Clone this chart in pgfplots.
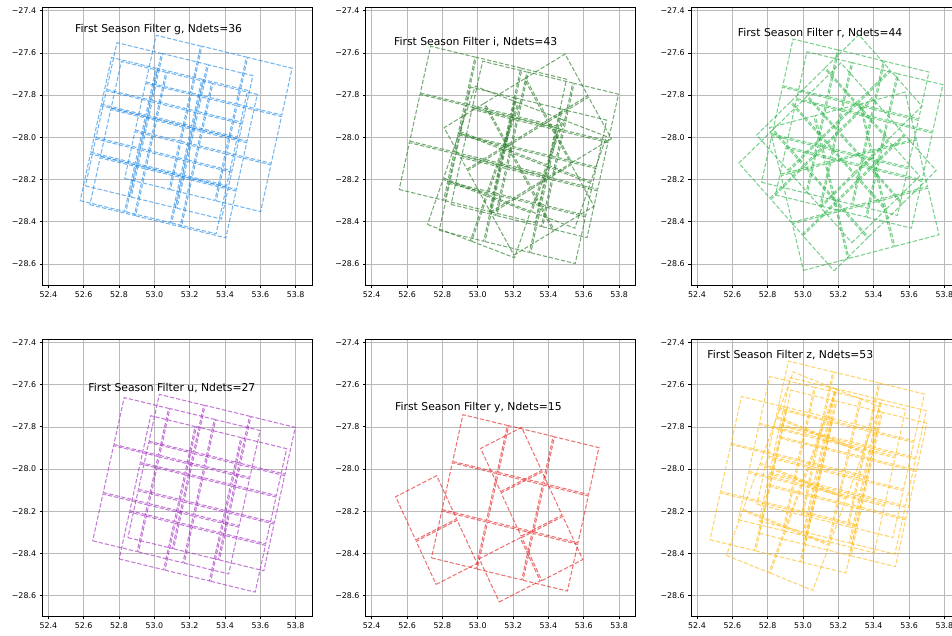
\documentclass[border=0pt]{standalone}
\usepackage{fontspec}
\setmainfont{DejaVu Sans}
\usepackage{pgfplots}
\pgfplotsset{compat=1.18}

\definecolor{gridc}{RGB}{185,185,185}
\definecolor{cg}{RGB}{30,136,229}
\definecolor{ci}{RGB}{34,120,34}
\definecolor{cr}{RGB}{40,180,70}
\definecolor{cu}{RGB}{160,40,190}
\definecolor{cy}{RGB}{225,30,30}
\definecolor{cz}{RGB}{255,185,20}

% detector outline: square of 0.2276 deg on the sky, rotated by #1 degrees,
% drawn in data units (x unit 176.7pt per deg RA, y unit 211pt per deg Dec, cos(dec)=0.8821)
\newcommand\chipmark[1]{%
  \pgfmathsetmacro\cXa{(cos(#1)+sin(#1))*22.796}%
  \pgfmathsetmacro\cYa{(cos(#1)-sin(#1))*24.012}%
  \pgfmathsetmacro\cXb{(cos(#1)-sin(#1))*22.796}%
  \pgfmathsetmacro\cYb{-(cos(#1)+sin(#1))*24.012}%
  \pgfmathsetmacro\cXan{-(cos(#1)+sin(#1))*22.796}%
  \pgfmathsetmacro\cYan{-(cos(#1)-sin(#1))*24.012}%
  \pgfmathsetmacro\cXbn{-(cos(#1)-sin(#1))*22.796}%
  \pgfmathsetmacro\cYbn{(cos(#1)+sin(#1))*24.012}%
  \pgfpathmoveto{\pgfqpoint{\cXan pt}{\cYan pt}}%
  \pgfpathlineto{\pgfqpoint{\cXb pt}{\cYb pt}}%
  \pgfpathlineto{\pgfqpoint{\cXa pt}{\cYa pt}}%
  \pgfpathlineto{\pgfqpoint{\cXbn pt}{\cYbn pt}}%
  \pgfpathclose
  \pgfusepathqstroke}
\pgfdeclareplotmark{chipPa}{\chipmark{13}}
\pgfdeclareplotmark{chipPb}{\chipmark{20}}
\pgfdeclareplotmark{chipPc}{\chipmark{21}}
\pgfdeclareplotmark{chipMa}{\chipmark{-14}}
\pgfdeclareplotmark{chipMb}{\chipmark{-26}}
\pgfdeclareplotmark{chipMc}{\chipmark{-30}}
\pgfdeclareplotmark{chipMd}{\chipmark{-43}}

\pgfplotsset{
  panel/.style={
    anchor=south west,
    x=176.7pt, y=211pt,
    xmin=52.366, xmax=53.894, ymin=-28.700, ymax=-27.384,
    xtick={52.4,52.6,52.8,53.0,53.2,53.4,53.6,53.8},
    xticklabels={52.4,52.6,52.8,53.0,53.2,53.4,53.6,53.8},
    ytick={-28.6,-28.4,-28.2,-28.0,-27.8,-27.6,-27.4},
    yticklabels={−28.6,−28.4,−28.2,−28.0,−27.8,−27.6,−27.4},
    xtick pos=bottom, ytick pos=left,
    tick align=outside, major tick length=2.7pt,
    tick style={black, line width=0.6pt},
    axis line style={black, line width=0.6pt},
    grid=major, major grid style={gridc, line width=0.55pt},
    tick label style={font=\fontsize{7.9pt}{9pt}\selectfont, black},
    clip=false,
  },
  chips/.style={only marks, line width=1.05pt, dash pattern=on 4.3pt off 1.9pt, opacity=0.62},
}
\tikzset{ttl/.style={anchor=west, inner sep=0pt, font=\fontsize{10.8pt}{13pt}\selectfont, black}}

\begin{document}
\begin{tikzpicture}
\path[use as bounding box] (0,0) rectangle (952pt,636pt);

% ---------------- g ----------------
\begin{axis}[panel, at={(42.3pt,351pt)}]
\addplot[chips, color=cg, mark=chipPa] coordinates {
(52.987,-28.110) (53.246,-28.163) (53.505,-28.216)
(53.047,-27.881) (53.306,-27.934) (53.565,-27.987)
(53.107,-27.653) (53.366,-27.705) (53.625,-27.758)
(52.790,-28.234) (53.049,-28.287) (53.308,-28.340)
(52.850,-28.005) (53.109,-28.058) (53.368,-28.111)
(52.910,-27.777) (53.169,-27.829) (53.428,-27.882)
(52.735,-28.215) (52.994,-28.268) (53.253,-28.321)
(52.795,-27.986) (53.054,-28.039) (53.313,-28.092)
(52.855,-27.758) (53.114,-27.810) (53.373,-27.863)
(52.765,-28.145) (53.024,-28.198) (53.283,-28.251)
(52.825,-27.916) (53.084,-27.969) (53.343,-28.022)
(52.885,-27.688) (53.144,-27.740) (53.403,-27.793)
};
\node[ttl] at (axis cs:52.551,-27.490) {First Season Filter g, Ndets=36};
\end{axis}

% ---------------- i ----------------
\begin{axis}[panel, at={(365.7pt,351pt)}]
\addplot[chips, color=ci, mark=chipPa] coordinates {
(52.710,-28.162) (52.969,-28.215) (53.228,-28.268)
(52.770,-27.933) (53.029,-27.986) (53.288,-28.039)
(52.830,-27.705) (53.089,-27.757) (53.348,-27.810)
(53.004,-28.233) (53.263,-28.286) (53.522,-28.339)
(53.064,-28.004) (53.323,-28.057) (53.582,-28.110)
(53.124,-27.776) (53.383,-27.828) (53.642,-27.881)
(52.937,-28.356) (53.196,-28.409) (53.455,-28.462)
(52.997,-28.127) (53.256,-28.180) (53.515,-28.233)
(53.057,-27.899) (53.316,-27.951) (53.575,-28.004)
};
\addplot[chips, color=ci, mark=chipMc] coordinates {
(52.986,-27.996) (53.216,-27.879) (53.447,-27.761)
(53.119,-28.199) (53.350,-28.082) (53.580,-27.965)
(53.252,-28.403) (53.482,-28.285)
};
\addplot[chips, color=ci, mark=chipPb] coordinates {
(52.881,-28.345) (53.131,-28.425) (52.972,-28.125) (53.222,-28.205)
(53.063,-27.904) (53.313,-27.984) (53.472,-28.285) (53.563,-28.064)
};
\node[ttl] at (axis cs:52.526,-27.547) {First Season Filter i, Ndets=43};
\end{axis}

% ---------------- r ----------------
\begin{axis}[panel, at={(691pt,351pt)}]
\addplot[chips, color=cr, mark=chipPa] coordinates {
(52.920,-28.128) (53.179,-28.181) (53.438,-28.234)
(52.980,-27.899) (53.239,-27.952) (53.498,-28.005)
(53.040,-27.671) (53.299,-27.723) (53.558,-27.776)
(52.999,-28.188) (53.258,-28.241) (53.517,-28.294)
(53.059,-27.959) (53.318,-28.012) (53.577,-28.065)
(53.119,-27.731) (53.378,-27.783) (53.637,-27.836)
};
\addplot[chips, color=cr, mark=chipMa] coordinates {
(53.096,-28.493) (53.354,-28.436) (53.613,-28.379)
(53.032,-28.265) (53.290,-28.208) (53.548,-28.151)
(52.967,-28.037) (53.226,-27.980) (53.484,-27.924)
};
\addplot[chips, color=cr, mark=chipMd] coordinates {
(53.182,-28.472) (53.377,-28.312) (53.571,-28.152)
(53.001,-28.300) (53.195,-28.140) (53.390,-27.980)
(52.819,-28.128) (53.014,-27.968) (53.208,-27.808)
(53.283,-28.339) (53.478,-28.179)
(53.102,-28.167) (53.296,-28.007) (53.491,-27.847)
(52.920,-27.995) (53.115,-27.835) (53.309,-27.675)
};
\node[ttl] at (axis cs:52.630,-27.504) {First Season Filter r, Ndets=44};
\end{axis}

% ---------------- u ----------------
\begin{axis}[panel, at={(42.3pt,19.3pt)}]
\addplot[chips, color=cu, mark=chipPa] coordinates {
(53.005,-28.240) (53.264,-28.293) (53.523,-28.346)
(53.065,-28.011) (53.324,-28.064) (53.583,-28.117)
(53.125,-27.783) (53.384,-27.835) (53.643,-27.888)
(52.806,-28.255) (53.065,-28.308) (53.324,-28.361)
(52.866,-28.026) (53.125,-28.079) (53.384,-28.132)
(52.926,-27.798) (53.185,-27.850) (53.444,-27.903)
(52.956,-28.341) (53.215,-28.394) (53.474,-28.447)
(53.016,-28.112) (53.275,-28.165) (53.534,-28.218)
(53.076,-27.884) (53.335,-27.936) (53.594,-27.989)
};
\node[ttl] at (axis cs:52.626,-27.614) {First Season Filter u, Ndets=27};
\end{axis}

% ---------------- y ----------------
\begin{axis}[panel, at={(365.7pt,19.3pt)}]
\addplot[chips, color=cy, mark=chipPa] coordinates {
(52.893,-28.336) (53.152,-28.389) (53.411,-28.442)
(52.953,-28.107) (53.212,-28.160) (53.471,-28.213)
(53.013,-27.879) (53.272,-27.931) (53.531,-27.984)
};
\addplot[chips, color=cy, mark=chipMb] coordinates {
(52.708,-28.184) (52.824,-28.395) (53.189,-27.955)
(53.305,-28.166) (53.422,-28.377) (53.181,-28.478)
};
\node[ttl] at (axis cs:52.532,-27.709) {First Season Filter y, Ndets=15};
\end{axis}

% ---------------- z ----------------
\begin{axis}[panel, at={(691pt,19.3pt)}]
\addplot[chips, color=cz, mark=chipPa] coordinates {
(52.894,-28.082) (53.153,-28.135) (53.412,-28.188)
(52.954,-27.853) (53.213,-27.906) (53.472,-27.959)
(53.014,-27.625) (53.273,-27.677) (53.532,-27.730)
(52.628,-28.250) (52.887,-28.303) (53.146,-28.356)
(52.688,-28.021) (52.947,-28.074) (53.206,-28.127)
(52.748,-27.793) (53.007,-27.845) (53.266,-27.898)
(52.908,-28.220) (53.167,-28.273) (53.426,-28.326)
(52.968,-27.991) (53.227,-28.044) (53.486,-28.097)
(53.028,-27.763) (53.287,-27.815) (53.546,-27.868)
(52.905,-28.161) (53.164,-28.214) (53.423,-28.267)
(52.965,-27.932) (53.224,-27.985) (53.483,-28.038)
(53.025,-27.704) (53.284,-27.756) (53.543,-27.809)
(52.788,-28.155) (53.047,-28.208) (53.306,-28.261)
(52.848,-27.926) (53.107,-27.979) (53.366,-28.032)
(52.908,-27.698) (53.167,-27.750) (53.426,-27.803)
};
\addplot[chips, color=cz, mark=chipPc] coordinates {
(52.733,-28.344) (52.981,-28.428) (52.828,-28.125) (53.076,-28.209)
(52.924,-27.906) (53.172,-27.990) (53.019,-27.687) (53.267,-27.771)
};
\node[ttl] at (axis cs:52.458,-27.460) {First Season Filter z, Ndets=53};
\end{axis}
\end{tikzpicture}
\end{document}
